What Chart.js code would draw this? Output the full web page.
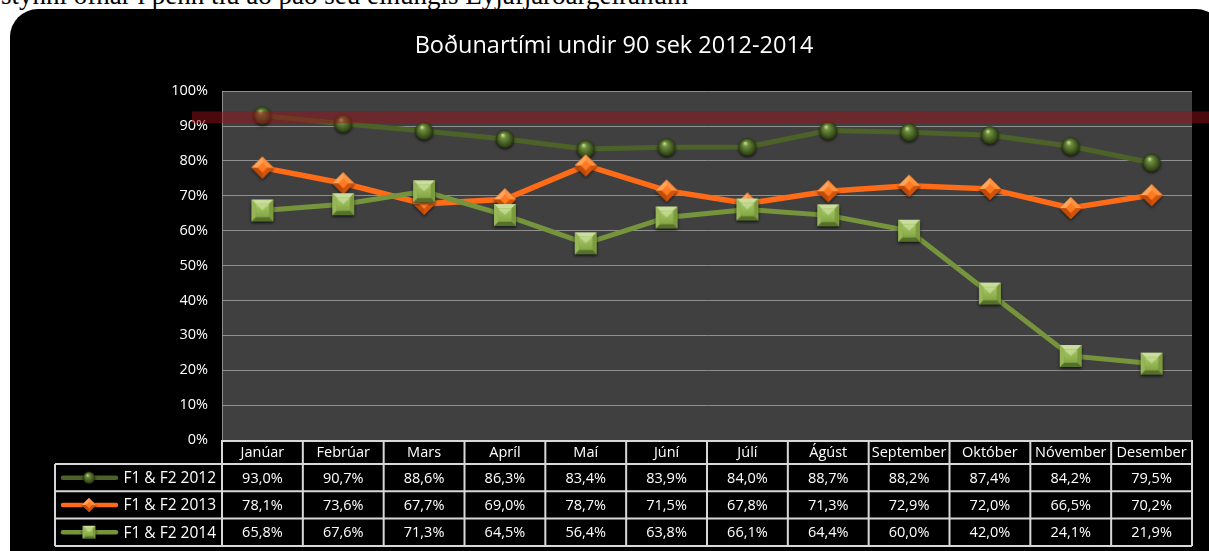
<!DOCTYPE html>
<html>
<head>
<meta charset="utf-8">
<script src="https://cdn.jsdelivr.net/npm/chart.js@4.4.1/dist/chart.umd.min.js"></script>
<style>
  html, body { margin: 0; padding: 0; background: #ffffff; width: 1209px; height: 551px; overflow: hidden; position: relative; }
  #doc { position: absolute; left: 1px; top: -20px; font-family: "Liberation Serif", "DejaVu Serif", serif; font-size: 27px; color: #000; white-space: nowrap; }
  #frame { position: absolute; left: 10px; top: 9px; width: 1214px; height: 580px; background: #000; border-radius: 28px; }
  #c { position: absolute; left: 0; top: 0; }
</style>
</head>
<body>
<div id="doc">stynni ofnar í þenn tíu að það séu einungis Eyjafjarðargeiranum</div>
<div id="frame"></div>
<canvas id="c" width="1209" height="551"></canvas>
<script>
const titleText = 'Boðunartími undir 90 sek 2012-2014';
const months = ['Janúar','Febrúar','Mars','Apríl','Maí','Júní','Júlí','Ágúst','September','Október','Nóvember','Desember'];
const series2012 = [93.0, 90.7, 88.6, 86.3, 83.4, 83.9, 84.0, 88.7, 88.2, 87.4, 84.2, 79.5];
const series2013 = [78.1, 73.6, 67.7, 69.0, 78.7, 71.5, 67.8, 71.3, 72.9, 72.0, 66.5, 70.2];
const series2014 = [65.8, 67.6, 71.3, 64.5, 56.4, 63.8, 66.1, 64.4, 60.0, 42.0, 24.1, 21.9];
const seriesNames = ['F1 & F2 2012', 'F1 & F2 2013', 'F1 & F2 2014'];
const yMin = 0, yMax = 100, yStep = 10;
const targetBand = [90.8, 94.2];

const FONT = '"Open Sans", "Liberation Sans", Arial, sans-serif';

function mk(w, h) { const c = document.createElement('canvas'); c.width = w; c.height = h; return c; }

function makeSphere(d) {
  const pad = 4, c = mk(d + pad * 2, d + pad * 2), g = c.getContext('2d');
  const cx = pad + d / 2, cy = pad + d / 2, r = d / 2;
  g.shadowColor = 'rgba(0,0,0,0.7)'; g.shadowBlur = 3; g.shadowOffsetY = 1.5;
  const grd = g.createRadialGradient(cx - r * 0.25, cy - r * 0.45, r * 0.05, cx, cy, r);
  grd.addColorStop(0, '#c4dc98');
  grd.addColorStop(0.25, '#6f8e3e');
  grd.addColorStop(0.7, '#435b22');
  grd.addColorStop(1, '#27350f');
  g.fillStyle = grd; g.beginPath(); g.arc(cx, cy, r, 0, Math.PI * 2); g.fill();
  return c;
}

function makeDiamond(d) {
  const pad = 4, c = mk(d + pad * 2, d + pad * 2), g = c.getContext('2d');
  const cx = pad + d / 2, cy = pad + d / 2, r = d / 2;
  g.shadowColor = 'rgba(0,0,0,0.7)'; g.shadowBlur = 3; g.shadowOffsetY = 1.5;
  g.fillStyle = '#e8661a';
  g.beginPath(); g.moveTo(cx, cy - r); g.lineTo(cx + r, cy); g.lineTo(cx, cy + r); g.lineTo(cx - r, cy); g.closePath(); g.fill();
  g.shadowColor = 'transparent';
  const facets = [
    [[cx, cy - r], [cx + r, cy], '#ff9240'],
    [[cx + r, cy], [cx, cy + r], '#d4540c'],
    [[cx, cy + r], [cx - r, cy], '#c04a08'],
    [[cx - r, cy], [cx, cy - r], '#ffa55a']
  ];
  for (const f of facets) {
    g.fillStyle = f[2]; g.beginPath(); g.moveTo(cx, cy); g.lineTo(f[0][0], f[0][1]); g.lineTo(f[1][0], f[1][1]); g.closePath(); g.fill();
  }
  const ir = r * 0.45;
  g.fillStyle = '#ff7a22';
  g.beginPath(); g.moveTo(cx, cy - ir); g.lineTo(cx + ir, cy); g.lineTo(cx, cy + ir); g.lineTo(cx - ir, cy); g.closePath(); g.fill();
  return c;
}

function makeSquare(d) {
  const pad = 4, c = mk(d + pad * 2, d + pad * 2), g = c.getContext('2d');
  const x0 = pad, y0 = pad, x1 = pad + d, y1 = pad + d;
  const i = d * 0.2;
  g.shadowColor = 'rgba(0,0,0,0.75)'; g.shadowBlur = 3; g.shadowOffsetY = 1.5;
  g.fillStyle = '#7a9a3c'; g.fillRect(x0, y0, d, d);
  g.shadowColor = 'transparent';
  const quad = (pts, col) => { g.fillStyle = col; g.beginPath(); g.moveTo(pts[0][0], pts[0][1]); for (let k = 1; k < pts.length; k++) g.lineTo(pts[k][0], pts[k][1]); g.closePath(); g.fill(); };
  quad([[x0, y0], [x1, y0], [x1 - i, y0 + i], [x0 + i, y0 + i]], '#c9dd9c');
  quad([[x1, y0], [x1, y1], [x1 - i, y1 - i], [x1 - i, y0 + i]], '#7c9a3e');
  quad([[x0, y1], [x1, y1], [x1 - i, y1 - i], [x0 + i, y1 - i]], '#55702a');
  quad([[x0, y0], [x0, y1], [x0 + i, y1 - i], [x0 + i, y0 + i]], '#96b658');
  const grd = g.createLinearGradient(0, y0 + i, 0, y1 - i);
  grd.addColorStop(0, '#a6c866'); grd.addColorStop(1, '#84a644');
  g.fillStyle = grd; g.fillRect(x0 + i, y0 + i, d - 2 * i, d - 2 * i);
  const cx = (x0 + x1) / 2;
  quad([[x0 + i, y0 + i], [x1 - i, y0 + i], [cx, y0 + d * 0.5]], 'rgba(230,245,200,0.45)');
  return c;
}

const markers = [makeSphere(18), makeDiamond(22), makeSquare(22)];
const legendMarkers = [makeSphere(12), makeDiamond(14), makeSquare(13)];
const lineColors = ['#4d6228', '#ff6b17', '#76943c'];
const seriesData = [series2012, series2013, series2014];

const bgPlugin = {
  id: 'plotBg',
  beforeDraw(chart) {
    const { ctx, chartArea: a } = chart;
    ctx.save(); ctx.fillStyle = '#404040'; ctx.fillRect(a.left, a.top, a.right - a.left, a.bottom - a.top); ctx.restore();
  }
};

const bandPlugin = {
  id: 'band',
  afterDatasetsDraw(chart) {
    const { ctx, chartArea: a, scales: { y } } = chart;
    const yt = y.getPixelForValue(targetBand[1]), yb = y.getPixelForValue(targetBand[0]);
    ctx.save();
    ctx.fillStyle = 'rgba(150,16,26,0.5)';
    ctx.fillRect(a.left - 30, yt, chart.width - (a.left - 30), yb - yt);
    ctx.restore();
  }
};

const tablePlugin = {
  id: 'dataTable',
  afterDraw(chart) {
    const { ctx, chartArea: a, scales: { x } } = chart;
    const colW = (a.right - a.left) / months.length;
    const headH = 24, rowH = 27.3, legL = 55;
    const top = a.bottom;
    ctx.save();
    ctx.fillStyle = '#000';
    ctx.fillRect(a.left, top, a.right - a.left, headH + rowH * 3);
    ctx.fillRect(legL, top + headH, a.left - legL, rowH * 3);
    ctx.strokeStyle = '#d8d8d8'; ctx.lineWidth = 2;
    ctx.beginPath();
    ctx.moveTo(a.left, top + 1); ctx.lineTo(a.right, top + 1);
    for (let r = 1; r <= 3; r++) { const yy = top + headH + rowH * (r - 1); ctx.moveTo(legL, yy); ctx.lineTo(a.right, yy); }
    const yEnd = top + headH + rowH * 3;
    ctx.moveTo(legL, yEnd); ctx.lineTo(a.right, yEnd);
    for (let c = 0; c <= months.length; c++) { const xx = a.left + colW * c; ctx.moveTo(xx, top); ctx.lineTo(xx, yEnd); }
    ctx.moveTo(legL, top + headH); ctx.lineTo(legL, yEnd);
    ctx.stroke();
    ctx.fillStyle = '#ffffff';
    ctx.font = '14.5px ' + FONT;
    ctx.textAlign = 'center'; ctx.textBaseline = 'middle';
    months.forEach((m, i) => ctx.fillText(m, x.getPixelForValue(i), top + headH / 2 + 1));
    seriesData.forEach((arr, r) => {
      const cy = top + headH + rowH * r + rowH / 2 + 1;
      arr.forEach((v, i) => ctx.fillText(v.toFixed(1).replace('.', ',') + '%', x.getPixelForValue(i), cy));
    });
    seriesNames.forEach((n, r) => {
      const cy = top + headH + rowH * r + rowH / 2;
      ctx.strokeStyle = lineColors[r]; ctx.lineWidth = 4.5; ctx.lineCap = 'round';
      ctx.beginPath(); ctx.moveTo(63, cy); ctx.lineTo(116, cy); ctx.stroke();
      const im = legendMarkers[r];
      ctx.drawImage(im, 89 - im.width / 2, cy - im.height / 2);
      ctx.fillStyle = '#ffffff'; ctx.textAlign = 'right';
      ctx.font = '15.5px ' + FONT;
      ctx.fillText(n, a.left - 6, cy + 1);
    });
    ctx.restore();
  }
};

const yTicks = [];
for (let v = yMin; v <= yMax; v += yStep) yTicks.push(v);

new Chart(document.getElementById('c'), {
  type: 'line',
  data: {
    labels: months,
    datasets: seriesData.map((arr, k) => ({
      label: seriesNames[k],
      data: arr,
      borderColor: lineColors[k],
      borderWidth: k === 1 ? 5.5 : 5,
      pointStyle: markers[k],
      pointRadius: 9,
      pointHoverRadius: 9,
      tension: 0,
      order: 2 - k
    }))
  },
  options: {
    responsive: false,
    devicePixelRatio: 1,
    animation: false,
    layout: { padding: { left: 36, right: 17, top: 0, bottom: 111 } },
    plugins: {
      legend: { display: false },
      tooltip: { enabled: false },
      title: {
        display: true, text: titleText, color: '#ffffff',
        font: { family: FONT, size: 23.5, weight: 'normal' },
        padding: { top: 32, bottom: 31 }
      }
    },
    scales: {
      x: { display: false, offset: true },
      y: {
        min: yMin, max: yMax,
        afterFit(s) { s.width = 186; },
        afterBuildTicks(s) { s.ticks = yTicks.map(v => ({ value: v })); },
        ticks: { color: '#ffffff', font: { family: FONT, size: 14.5 }, padding: 14, callback: v => v + '%' },
        grid: { color: '#8f8f8f', lineWidth: 1, drawTicks: false },
        border: { display: true, color: '#8f8f8f', width: 1 }
      }
    }
  },
  plugins: [bgPlugin, bandPlugin, tablePlugin]
});
</script>
</body>
</html>
